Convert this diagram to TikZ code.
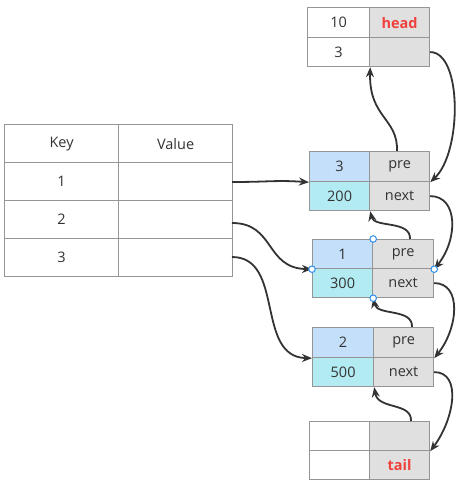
\documentclass[tikz,border=0pt]{standalone}
\usepackage{fontspec}
\setmainfont{Open Sans}
\usetikzlibrary{arrows.meta}
\definecolor{cellborder}{HTML}{959595}
\definecolor{keyblue}{HTML}{C4DFFA}
\definecolor{valcyan}{HTML}{B3EBF2}
\definecolor{ptrgray}{HTML}{E0E0E0}
\definecolor{labelred}{HTML}{F0413C}
\definecolor{inkgray}{HTML}{333333}
\definecolor{handleblue}{HTML}{2F8FF0}
\tikzset{
  cell/.style={draw=cellborder, line width=1.2pt, inner sep=0pt, anchor=north west,
    text=inkgray, font=\fontsize{14.5}{17}\selectfont},
  wcell/.style={cell, fill=white},
  bcell/.style={cell, fill=keyblue},
  ccell/.style={cell, fill=valcyan},
  gcell/.style={cell, fill=ptrgray},
  redlabel/.style={text=labelred, font=\fontsize{14.5}{17}\selectfont\bfseries},
  arr/.style={draw=inkgray, line width=1.8pt, -{Stealth[length=10pt,width=8pt]}},
  handle/.style={circle, draw=handleblue, fill=white, line width=1pt, inner sep=0pt, minimum size=6.5pt}
}
\begin{document}
\begin{tikzpicture}[x=1pt,y=-1pt]
\useasboundingbox (0,0) rectangle (473,484);

% hash table
\node[wcell, minimum width=114, minimum height=38] (k0) at (4,124) {Key};
\node[wcell, minimum width=114, minimum height=38] (v0) at (118,124) {Value};
\node[wcell, minimum width=114, minimum height=38] (k1) at (4,162) {1};
\node[wcell, minimum width=114, minimum height=38] (v1) at (118,162) {};
\node[wcell, minimum width=114, minimum height=38] (k2) at (4,200) {2};
\node[wcell, minimum width=114, minimum height=38] (v2) at (118,200) {};
\node[wcell, minimum width=114, minimum height=38] (k3) at (4,238) {3};
\node[wcell, minimum width=114, minimum height=38] (v3) at (118,238) {};

% head sentinel
\node[wcell, minimum width=62, minimum height=30] (h11) at (307,7) {10};
\node[gcell, minimum width=60, minimum height=30] (h12) at (369,7) {};
\node[redlabel] at (h12.center) {head};
\node[wcell, minimum width=62, minimum height=29] (h21) at (307,37) {3};
\node[gcell, minimum width=60, minimum height=29] (h22) at (369,37) {};

% entry 3
\node[bcell, minimum width=60, minimum height=30] (a11) at (309,151) {3};
\node[gcell, minimum width=60, minimum height=30] (a12) at (369,151) {pre};
\node[ccell, minimum width=60, minimum height=29] (a21) at (309,181) {200};
\node[gcell, minimum width=60, minimum height=29] (a22) at (369,181) {next};

% entry 1
\node[bcell, minimum width=60, minimum height=29] (b11) at (312,239) {1};
\node[gcell, minimum width=61, minimum height=29] (b12) at (372,239) {pre};
\node[ccell, minimum width=60, minimum height=29] (b21) at (312,268) {300};
\node[gcell, minimum width=61, minimum height=29] (b22) at (372,268) {next};

% entry 2
\node[bcell, minimum width=61, minimum height=30] (c11) at (312,327) {2};
\node[gcell, minimum width=60, minimum height=30] (c12) at (373,327) {pre};
\node[ccell, minimum width=61, minimum height=29] (c21) at (312,357) {500};
\node[gcell, minimum width=60, minimum height=29] (c22) at (373,357) {next};

% tail sentinel
\node[wcell, minimum width=60, minimum height=29] (t11) at (309,421) {};
\node[gcell, minimum width=60, minimum height=29] (t12) at (369,421) {};
\node[wcell, minimum width=60, minimum height=29] (t21) at (309,450) {};
\node[gcell, minimum width=60, minimum height=29] (t22) at (369,450) {};
\node[redlabel] at (t22.center) {tail};

% next pointers
\draw[arr] (h22.east) .. controls +(32,0) and +(32,-30) .. (a12.south east);
\draw[arr] (a22.east) .. controls +(28,0) and +(24,-30) .. (b12.south east);
\draw[arr] (b22.east) .. controls +(28,0) and +(24,-30) .. (c12.south east);
\draw[arr] (c22.east) .. controls +(28,0) and +(24,-32) .. (t12.south east);

% pre pointers
\coordinate (ap) at (397,151);
\coordinate (bp) at (410,239);
\coordinate (cp) at (412,327);
\coordinate (tp) at (411,421);
\draw[arr] (ap) .. controls (398,118) and (369,118) .. (h21.south east);
\draw[arr] (bp) .. controls (411,220) and (374,228) .. (a21.south east);
\draw[arr] (cp) .. controls (413,308) and (377,316) .. (b21.south east);
\draw[arr] (tp) .. controls (412,402) and (378,410) .. (c21.south east);

% table values to entries
\coordinate (s1) at (232,182);
\coordinate (s2) at (232,223);
\coordinate (s3) at (232,257);
\draw[arr] (s1) .. controls (270,182) and (275,180) .. (a11.south west);
\draw[arr] (s2) .. controls (275,223) and (265,268) .. (b11.south west);
\draw[arr] (s3) .. controls (285,257) and (255,357) .. (c11.south west);

% selection handles on entry 1
\node[handle] (hn) at (b11.north east) {};
\node[handle] (hw) at (b11.south west) {};
\node[handle] (he) at (b12.south east) {};
\node[handle] (hs) at (b21.south east) {};
\end{tikzpicture}
\end{document}
